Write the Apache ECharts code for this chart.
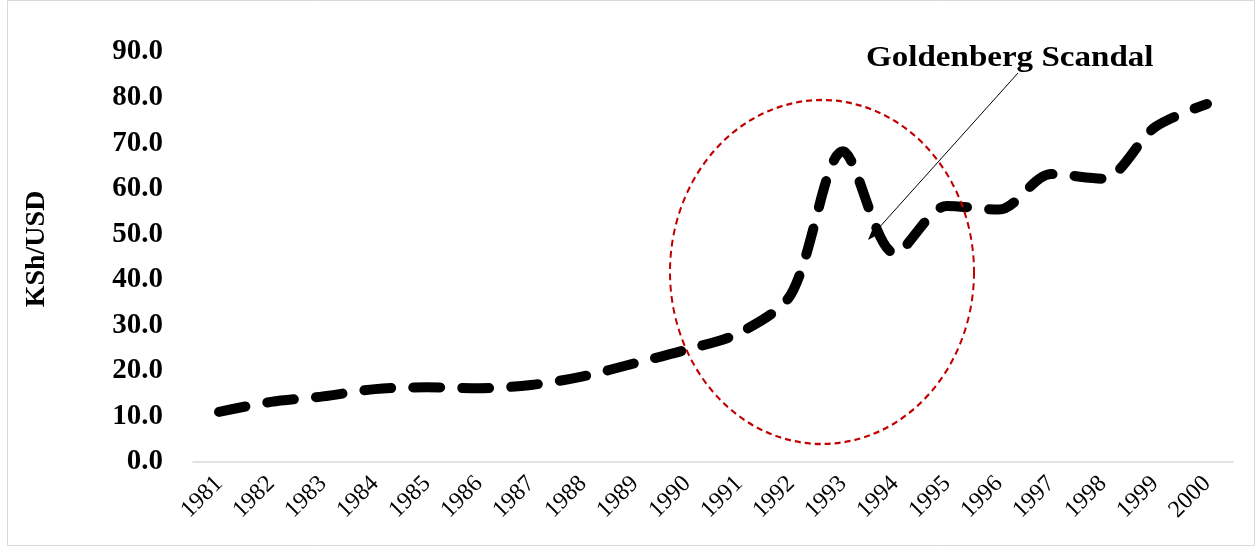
<!DOCTYPE html>
<html>
<head>
<meta charset="utf-8">
<script src="https://cdn.jsdelivr.net/npm/echarts@6/dist/echarts.min.js"></script>
<style>
html,body{margin:0;padding:0;background:#fff;}
#chart{width:1257px;height:546px;}
</style>
</head>
<body>
<div id="chart"></div>
<script>
const years = ['1981','1982','1983','1984','1985','1986','1987','1988','1989','1990',
               '1991','1992','1993','1994','1995','1996','1997','1998','1999','2000'];
const rate = [11.0, 13.2, 14.4, 16.0, 16.4, 16.2, 16.9, 18.8, 21.7, 24.7,
              28.3, 36.8, 68.2, 45.8, 56.2, 55.4, 63.2, 62.2, 73.5, 78.6];
const yTicks = [0, 10, 20, 30, 40, 50, 60, 70, 80, 90];
const yName = 'KSh/USD';
const annotation = 'Goldenberg Scandal';

const serif = '"Times New Roman", "Liberation Serif", "DejaVu Serif", serif';

const chart = echarts.init(document.getElementById('chart'));

// arrow geometry (annotation)
const aStart = [1018, 73], aTip = [868, 240];
const dx = aTip[0]-aStart[0], dy = aTip[1]-aStart[1];
const len = Math.sqrt(dx*dx+dy*dy);
const ux = dx/len, uy = dy/len, nx = -uy, ny = ux;
const hl = 14, hw = 5;
const bx = aTip[0]-hl*ux, by = aTip[1]-hl*uy;

chart.setOption({
  animation: false,
  backgroundColor: '#ffffff',
  grid: {left: 193, right: 24, top: 52, bottom: 84, containLabel: false},
  xAxis: {
    type: 'category',
    data: years,
    boundaryGap: true,
    axisLine: {show: true, lineStyle: {color: '#d9d9d9', width: 1.5}},
    axisTick: {show: false},
    axisLabel: {
      interval: 0, rotate: 45, margin: 18,
      fontFamily: serif, fontSize: 24, color: '#000'
    },
    splitLine: {show: false}
  },
  yAxis: {
    type: 'value',
    min: yTicks[0], max: yTicks[yTicks.length-1], interval: 10,
    name: yName,
    nameLocation: 'middle',
    nameGap: 142,
    nameRotate: 90,
    nameTextStyle: {fontFamily: serif, fontSize: 28, fontWeight: 'bold', color: '#000',
                    padding: [0, 0, 0, 16]},
    axisLine: {show: false},
    axisTick: {show: false},
    splitLine: {show: false},
    axisLabel: {
      margin: 30,
      fontFamily: serif, fontSize: 29, fontWeight: 'bold', color: '#000',
      formatter: v => v.toFixed(1)
    }
  },
  series: [{
    type: 'line',
    data: rate,
    smooth: 0.3,
    symbol: 'none',
    lineStyle: {color: '#000', width: 10, type: [27, 22], cap: 'round', join: 'round'},
    z: 3
  }],
  graphic: [
    {type: 'rect', shape: {x: 7.5, y: 0.5, width: 1247, height: 545},
     style: {fill: 'none', stroke: '#d9d9d9', lineWidth: 1}, silent: true, z: 0},
    {type: 'circle', shape: {cx: 0, cy: 0, r: 152}, x: 822, y: 272, scaleX: 1, scaleY: 172/152,
     style: {fill: 'none', stroke: '#c00000', lineWidth: 2, lineDash: [6, 4], strokeNoScale: true},
     silent: true, z: 5},
    {type: 'line', shape: {x1: aStart[0], y1: aStart[1], x2: bx, y2: by},
     style: {stroke: '#000', lineWidth: 1}, silent: true, z: 6},
    {type: 'polygon', shape: {points: [
        [aTip[0], aTip[1]],
        [bx + hw*nx, by + hw*ny],
        [bx - hw*nx, by - hw*ny]]},
     style: {fill: '#000'}, silent: true, z: 6},
    {type: 'text', x: 866, y: 73, scaleX: 1.14,
     style: {text: annotation, font: 'bold 29px ' + serif, fill: '#000',
             textAlign: 'left', textVerticalAlign: 'bottom'},
     silent: true, z: 6}
  ]
});
</script>
</body>
</html>
